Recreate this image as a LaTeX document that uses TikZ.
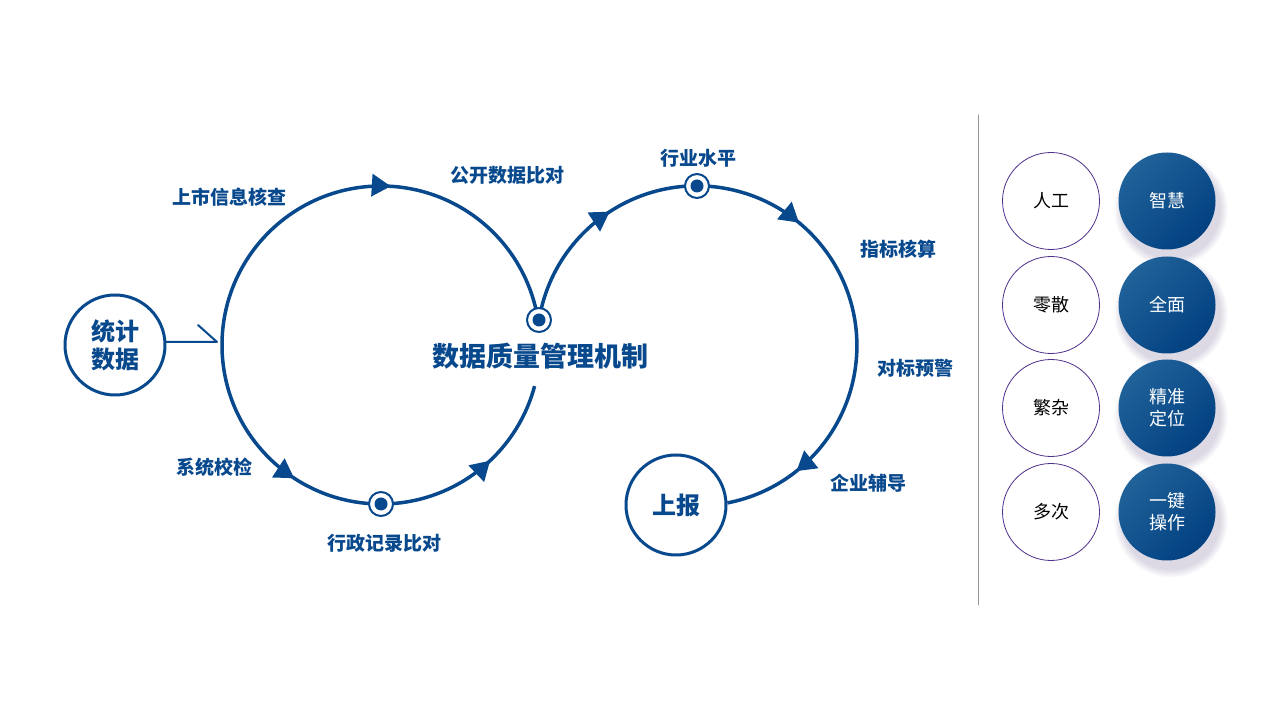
\documentclass[tikz,border=0pt]{standalone}
\usepackage{fontspec}
\setmainfont{Noto Sans CJK SC}
\usetikzlibrary{arrows.meta,decorations.markings,shadows}
\definecolor{qblue}{RGB}{8,72,140}
\definecolor{qdark}{RGB}{2,64,128}
\definecolor{qlight}{RGB}{32,98,154}
\definecolor{qring}{RGB}{78,48,138}
\definecolor{qrule}{RGB}{150,150,150}
\begin{document}
\begin{tikzpicture}[x=1pt, y=1pt, line join=round, line cap=round,
	loopline/.style={qblue, line width=3.5pt, line cap=butt, postaction={decorate}},
	lbl/.style={text=qblue, font=\bfseries\fontsize{19}{21}\selectfont},
	endpt/.style={circle, draw=qblue, line width=3pt, fill=white, minimum size=100pt, inner sep=0pt, text=qblue, align=center, font=\bfseries\fontsize{24}{28}\selectfont},
	dotmark/.style={circle, draw=qblue, line width=2pt, fill=white, minimum size=24pt, inner sep=0pt,
		path picture={\fill[qblue] (path picture bounding box.center) circle (6.5pt);}},
	plain/.style={circle, draw=qring, line width=0.8pt, fill=white, minimum size=97pt, inner sep=0pt, align=center, font=\fontsize{18}{22}\selectfont},
	rich/.style={circle, minimum size=97pt, inner sep=0pt, top color=qlight, bottom color=qdark, shading angle=45, text=white, align=center, font=\fontsize{18}{22}\selectfont,
		circular drop shadow={shadow xshift=3pt, shadow yshift=-7pt, shadow scale=1.18, fill=qring!60!gray, opacity=0.22}}]
	\def\tp{\arrow{Triangle[length=19pt,width=22pt]}}
	\useasboundingbox (0,0) rectangle (1280,720);
	\path
	(381,375) coordinate (O1)
	(697,374) coordinate (O2)
	(222,375) coordinate (L)
	(217,378) coordinate (Lin)
	(539,400) coordinate (mid)
	(381,216) coordinate (bot)
	(697,534) coordinate (top)
	(978,605) coordinate (R1)
	(978,115) coordinate (R2)
	;
	% end points
	\node[endpt] (stat) at (115,375) {统计\\数据};
	\node[endpt] (rep) at (676,215) {上报};
	% the two loops
	\draw[loopline, decoration={markings, mark=at position 0.548 with {\tp}}] (L) arc[start angle=180, end angle=9.3, radius=159];
	\draw[loopline, decoration={markings, mark=at position 0.345 with {\tp}, mark=at position 0.808 with {\tp}}] (L) arc[start angle=180, end angle=345, radius=159];
	\draw[loopline, decoration={markings, mark=at position 0.191 with {\tp}, mark=at position 0.482 with {\tp}, mark=at position 0.89 with {\tp}}] (mid) arc[start angle=170.7, end angle=-79, radius=160];
	\draw[qblue, line width=2pt] (stat.east |- Lin) -- (Lin) -- ++(-19,17);
	\foreach \i in {mid,bot,top} \node[dotmark] (d\i) at (\i) {};
	% labels
	\node[lbl] (n1) at (229,523) {上市信息核查};
	\node[lbl] (n2) at (507,545) {公开数据比对};
	\node[lbl] (n3) at (698,562) {行业水平};
	\node[lbl] (n4) at (898,471) {指标核算};
	\node[lbl] (n5) at (915,352) {对标预警};
	\node[lbl] (n6) at (868,237) {企业辅导};
	\node[lbl] (n7) at (214,253) {系统校检};
	\node[lbl] (n8) at (384,177) {行政记录比对};
	\node[text=qblue, font=\bfseries\fontsize{27}{30}\selectfont] (mech) at (540,364) {数据质量管理机制};
	% right column
	\draw[qrule, line width=1pt] (R1) -- (R2);
	\foreach \y/\a/\b in {519/人工/智慧, 415/零散/全面, 312/繁杂/{精准\\定位}, 208/多次/{一键\\操作}} {
		\node[plain] (p\y) at (1051,\y) {\a};
		\node[rich] (r\y) at (1167,\y) {\b};
	}
\end{tikzpicture}
\end{document}
